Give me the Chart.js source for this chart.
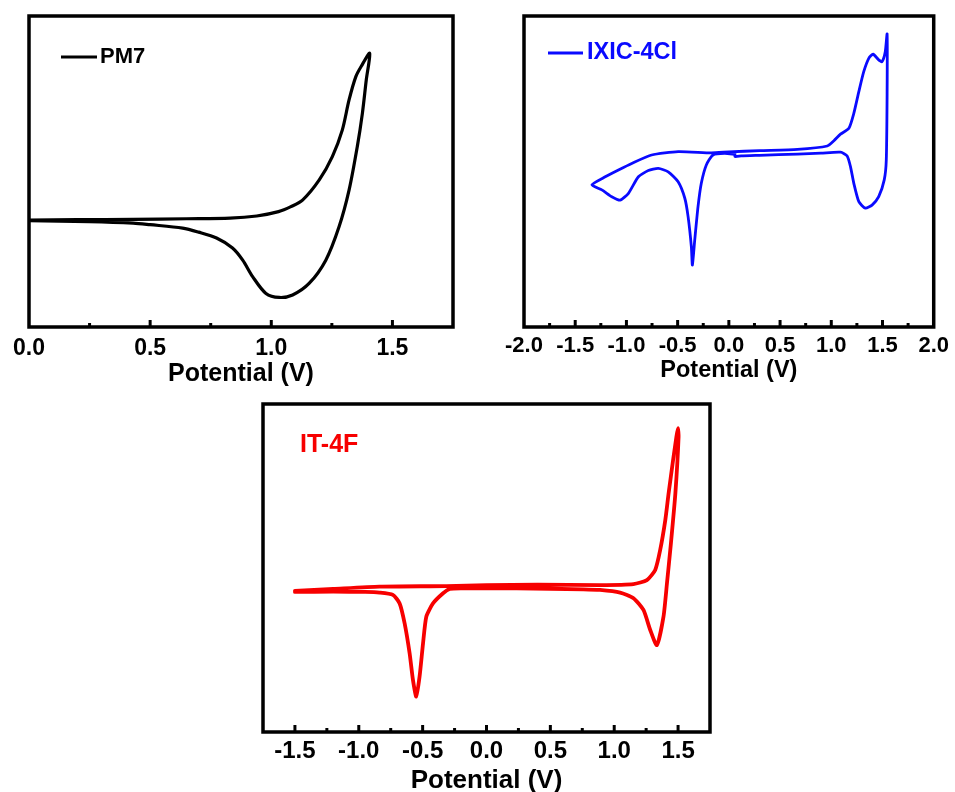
<!DOCTYPE html>
<html>
<head>
<meta charset="utf-8">
<script src="https://cdn.jsdelivr.net/npm/chart.js@4.4.1/dist/chart.umd.min.js"></script>
<style>
  html, body { margin: 0; padding: 0; background: #fff; overflow: hidden; width: 955px; height: 792px; }
  canvas { position: absolute; display: block; }
</style>
</head>
<body>
<canvas id="c1" width="470" height="390" style="left:0px;top:0px"></canvas>
<canvas id="c2" width="475" height="390" style="left:480px;top:0px"></canvas>
<canvas id="c3" width="480" height="410" style="left:250px;top:390px"></canvas>
<script>
// ---------------- data (potential in V, current in arbitrary units) ----------------
const axisTitle = 'Potential (V)';

const pm7Label = 'PM7';
const pm7Ticks = [0.0, 0.5, 1.0, 1.5];
const pm7Potential = [0.00, 0.20, 0.43, 0.65, 0.83, 0.94, 1.03, 1.081, 1.129, 1.198, 1.252, 1.293, 1.321, 1.349, 1.375, 1.406,
  1.392, 1.376, 1.355, 1.321, 1.28, 1.225, 1.156, 1.088, 1.033, 0.978, 0.923, 0.882, 0.84, 0.774, 0.70, 0.634, 0.50, 0.43, 0.25, 0.00];
const pm7Current = [34.4, 34.5, 34.6, 34.8, 35.0, 35.7, 37.1, 38.7, 40.8, 47.3, 54.8, 63.3, 73.0, 80.5, 84.3, 88.0,
  79.4, 68.7, 58.0, 44.0, 32.3, 21.5, 14.0, 10.3, 9.5, 10.8, 16.2, 21.5, 25.4, 28.6, 30.5, 31.8, 32.9, 33.4, 33.9, 34.2];

const ixicLabel = 'IXIC-4Cl';
const ixicTicks = [-2.0, -1.5, -1.0, -0.5, 0.0, 0.5, 1.0, 1.5, 2.0];
const ixicPotential = [0.06, 0.06, 0.12, 0.30, 0.67, 0.90, 1.09, 1.155, 1.188, 1.22, 1.269, 1.333, 1.398, 1.463, 1.517, 1.537, 1.545, 1.545,
  1.527, 1.495, 1.463, 1.408, 1.366, 1.317, 1.269, 1.22, 1.172, 1.09, 1.026, 0.961, 0.67, 0.30, 0.00, -0.172, -0.495, -0.754, -0.948, -1.078, -1.207, -1.337,
  -1.24, -1.143, -1.061, -0.98, -0.883, -0.786, -0.689, -0.592, -0.495, -0.43, -0.398, -0.366, -0.356, -0.333, -0.301, -0.269, -0.22, -0.155, -0.042, 0.06];
const ixicCurrent = [55.9, 54.8, 55.0, 55.2, 55.6, 55.9, 56.2, 55.0, 51.5, 46.2, 40.3, 38.2, 39.2, 41.9, 47.3, 53.7, 75.0, 94.2,
  88.5, 85.3, 85.9, 87.7, 86.4, 82.1, 75.7, 68.7, 63.9, 62.0, 59.9, 58.2, 57.1, 56.7, 56.3, 56.0, 56.4, 55.3, 52.6, 50.5, 48.3, 45.7,
  44.1, 41.9, 40.8, 43.0, 48.3, 50.3, 51.0, 49.9, 46.7, 41.4, 35.5, 25.8, 19.9, 28.0, 38.7, 46.2, 52.1, 55.3, 55.8, 55.5];

const it4fLabel = 'IT-4F';
const it4fTicks = [-1.5, -1.0, -0.5, 0.0, 0.5, 1.0, 1.5];
const it4fPotential = [-1.5, -1.2, -0.95, -0.838, -0.733, -0.68, -0.641, -0.602, -0.576, -0.55, -0.524, -0.497, -0.471, -0.419, -0.34, -0.288, -0.2,
  0.235, 0.758, 0.889, 1.046, 1.151, 1.229, 1.282, 1.334, 1.386, 1.413, 1.444, 1.479, 1.504, 1.499,
  1.487, 1.461, 1.426, 1.40, 1.36, 1.321, 1.256, 1.151, 0.889, 0.40, 0.00, -0.314, -0.838, -1.2, -1.5];
const it4fCurrent = [42.7, 42.8, 42.7, 42.5, 41.8, 39.2, 33.1, 24.0, 15.9, 10.8, 16.9, 27.0, 35.2, 39.2, 42.3, 43.6, 43.8,
  43.8, 43.5, 43.3, 42.5, 40.8, 37.2, 31.1, 26.5, 35.2, 45.3, 57.5, 72.8, 90.0, 92.6,
  90.0, 82.9, 72.8, 64.6, 55.5, 49.4, 46.3, 45.1, 44.8, 44.9, 44.8, 44.5, 44.3, 43.6, 43.0];

// ---------------- rendering ----------------
const FONT = "'Liberation Sans', Arial, Helvetica, sans-serif";

function toPoints(xs, ys) { return xs.map((x, i) => ({ x: x, y: ys[i] })); }

const framePlugin = {
  id: 'cvFrame',
  afterDraw(chart, args, opts) {
    const ctx = chart.ctx, a = chart.chartArea, xs = chart.scales.x;
    ctx.save();
    // inward ticks on the bottom axis (major every 0.5, minor every 0.25)
    ctx.strokeStyle = '#000';
    ctx.lineWidth = 3;
    const n0 = Math.ceil(xs.min / 0.25 - 1e-9), n1 = Math.floor(xs.max / 0.25 + 1e-9);
    for (let k = n0; k <= n1; k++) {
      const px = xs.getPixelForValue(k * 0.25);
      if (px <= a.left + 2 || px >= a.right - 2) continue;
      const major = (k % 2 === 0);
      ctx.beginPath();
      ctx.moveTo(px, a.bottom);
      ctx.lineTo(px, a.bottom - (major ? 7 : 4));
      ctx.stroke();
    }
    // frame
    ctx.lineWidth = 3.5;
    ctx.strokeRect(a.left, a.top, a.right - a.left, a.bottom - a.top);
    // legend
    if (opts && opts.text) {
      if (opts.lineFrom !== undefined) {
        ctx.strokeStyle = opts.color;
        ctx.lineWidth = opts.lineWidth;
        ctx.beginPath();
        ctx.moveTo(opts.lineFrom, opts.y);
        ctx.lineTo(opts.lineTo, opts.y);
        ctx.stroke();
      }
      ctx.fillStyle = opts.color;
      ctx.font = 'bold ' + opts.size + 'px ' + FONT;
      ctx.textBaseline = 'middle';
      ctx.textAlign = 'left';
      ctx.fillText(opts.text, opts.textX, opts.y);
    }
    ctx.restore();
  }
};

function makeChart(id, cfg) {
  return new Chart(document.getElementById(id), {
    type: 'scatter',
    data: {
      datasets: [{
        label: cfg.label,
        data: toPoints(cfg.xs, cfg.ys),
        showLine: true,
        borderColor: cfg.color,
        backgroundColor: cfg.color,
        borderWidth: cfg.lineWidth,
        pointRadius: 0,
        tension: cfg.tension,
        fill: false,
        borderJoinStyle: 'round',
        borderCapStyle: 'round'
      }]
    },
    options: {
      responsive: false,
      animation: false,
      events: [],
      layout: { padding: cfg.padding },
      scales: {
        x: {
          type: 'linear',
          position: 'bottom',
          min: cfg.xmin,
          max: cfg.xmax,
          grid: { display: false, drawTicks: false },
          border: { display: false },
          afterBuildTicks: (s) => { s.ticks = cfg.ticks.map((v) => ({ value: v })); },
          ticks: {
            autoSkip: false,
            maxRotation: 0,
            color: '#000',
            padding: cfg.tickPad,
            font: { family: FONT, weight: 'bold', size: cfg.tickSize },
            callback: (v) => (Math.abs(v) < 1e-9 ? 0 : Number(v)).toFixed(1)
          },
          title: {
            display: true,
            text: axisTitle,
            color: '#000',
            font: { family: FONT, weight: 'bold', size: cfg.titleSize },
            padding: { top: 0, bottom: cfg.titlePad }
          },
          afterFit: (s) => { s.height = cfg.axisHeight; }
        },
        y: { display: false, min: 0, max: 100 }
      },
      plugins: {
        legend: { display: false },
        tooltip: { enabled: false },
        cvFrame: cfg.legend
      }
    },
    plugins: [framePlugin]
  });
}

makeChart('c1', {
  label: pm7Label, xs: pm7Potential, ys: pm7Current, ticks: pm7Ticks, color: '#000000', lineWidth: 3.2, tension: 0.3,
  xmin: 0, xmax: 1.75,
  padding: { left: 29, right: 17, top: 16, bottom: 0 },
  axisHeight: 63, tickSize: 23, tickPad: 8, titleSize: 25, titlePad: 1,
  legend: { text: pm7Label, color: '#000000', lineFrom: 61, lineTo: 97, lineWidth: 3, textX: 100, y: 57, size: 22 }
});

makeChart('c2', {
  label: ixicLabel, xs: ixicPotential, ys: ixicCurrent, ticks: ixicTicks, color: '#0a0aff', lineWidth: 2.8, tension: 0.2,
  xmin: -2, xmax: 2,
  padding: { left: 44, right: 18, top: 16, bottom: 0 },
  axisHeight: 63, tickSize: 22, tickPad: 6, titleSize: 23.5, titlePad: 5,
  legend: { text: ixicLabel, color: '#0a0aff', lineFrom: 68, lineTo: 103, lineWidth: 3, textX: 107, y: 53, size: 23.5 }
});

makeChart('c3', {
  label: it4fLabel, xs: it4fPotential, ys: it4fCurrent, ticks: it4fTicks, color: '#f70000', lineWidth: 3.8, tension: 0.2,
  xmin: -1.75, xmax: 1.75,
  padding: { left: 13, right: 20, top: 14, bottom: 0 },
  axisHeight: 68, tickSize: 24, tickPad: 5, titleSize: 26, titlePad: 4,
  legend: { text: it4fLabel, color: '#f70000', textX: 50, y: 55, size: 25 }
});
</script>
</body>
</html>
